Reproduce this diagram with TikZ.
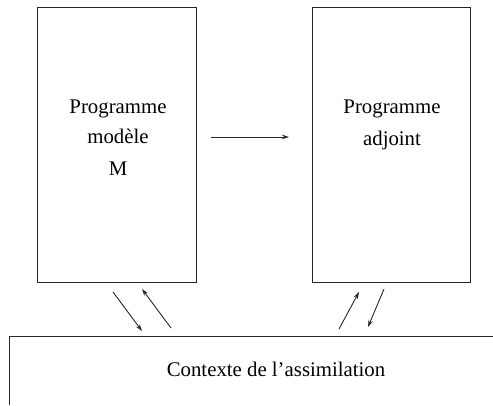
\documentclass[tikz,border=0pt]{standalone}
\usepackage{fontspec}
\setmainfont{Liberation Serif}
\usetikzlibrary{arrows.meta}
\begin{document}
\begin{tikzpicture}[x=1pt,y=-1pt,
  boxline/.style={draw=black!85,line width=1pt},
  lbl/.style={anchor=base,inner sep=0pt,font=\fontsize{20.8}{24}\selectfont},
  arr/.style={draw=black!85,line width=0.9pt,-{Stealth[length=7pt,width=4.5pt]}}]
\useasboundingbox (0,0) rectangle (493,405);
\fill[white] (0,0) rectangle (493,405);
% boxes
\node[boxline,minimum width=159pt,minimum height=275pt,inner sep=0pt] (model) at (116.5,144.5) {};
\node[boxline,minimum width=158pt,minimum height=275pt,inner sep=0pt] (adj) at (391,144.5) {};
% context box (open to bottom and right)
\coordinate (ctxbl) at (9,405);
\coordinate (ctxtl) at (9,336);
\coordinate (ctxtr) at (493,336);
\draw[boxline] (ctxbl) -- (ctxtl) -- (ctxtr);
% texts
\node[lbl] (m1) at (118,113) {Programme};
\node[lbl] (m2) at (118,143) {modèle};
\node[lbl] (m3) at (118,175) {M};
\node[lbl] (a1) at (392,113) {Programme};
\node[lbl] (a2) at (392,145) {adjoint};
\node[lbl] (ctx) at (276,376) {Contexte de l’assimilation};
% middle arrow
\coordinate (h1) at (211,137);
\coordinate (h2) at (289,137);
\draw[arr] (h1) -- (h2);
% lower arrows
\coordinate (p1s) at (113,292); \coordinate (p1e) at (142,331);
\coordinate (p2s) at (171,328); \coordinate (p2e) at (142,289);
\coordinate (p3s) at (339,329); \coordinate (p3e) at (359,292);
\coordinate (p4s) at (384,289); \coordinate (p4e) at (368,327);
\draw[arr] (p1s) -- (p1e);
\draw[arr] (p2s) -- (p2e);
\draw[arr] (p3s) -- (p3e);
\draw[arr] (p4s) -- (p4e);
\end{tikzpicture}
\end{document}
